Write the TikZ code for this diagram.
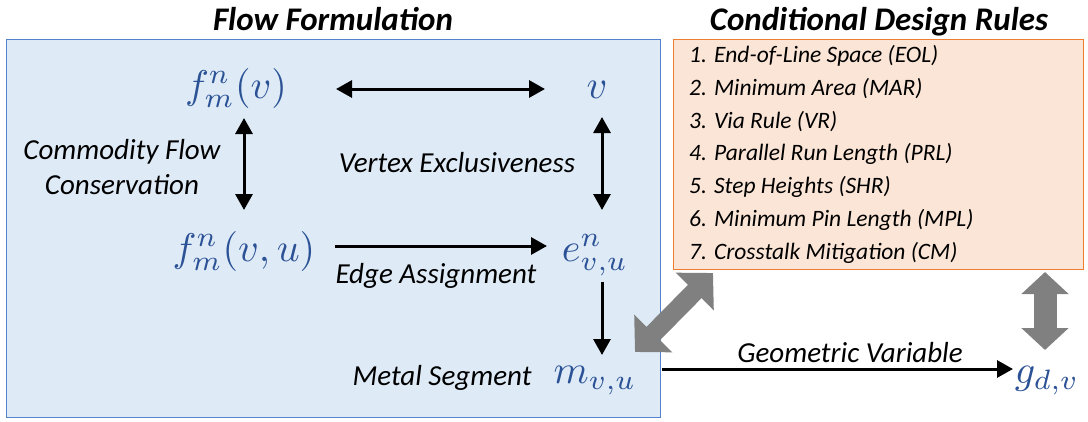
\documentclass[tikz,border=0pt]{standalone}
\usepackage{graphicx}
\usepackage{fontspec}
\setmainfont{Carlito}
\usetikzlibrary{arrows.meta}
\definecolor{boxblue}{RGB}{222,235,247}
\definecolor{edgeblue}{RGB}{84,130,204}
\definecolor{boxorange}{RGB}{251,229,214}
\definecolor{edgeorange}{RGB}{237,125,49}
\definecolor{mathblue}{RGB}{44,82,150}
\definecolor{arrowgray}{RGB}{128,128,128}
% large math symbols: 10pt math scaled up
\newcommand\mvar[1]{\scalebox{4.0}{$#1$}}
\tikzset{
  var/.style={text=mathblue, inner sep=0pt, anchor=base},
  lbl/.style={font=\fontsize{29}{34}\selectfont\itshape, inner sep=0pt, anchor=base},
  rule/.style={font=\fontsize{23.5}{33}\selectfont\itshape, inner sep=0pt, anchor=base west},
  ttl/.style={font=\fontsize{33}{38}\selectfont\bfseries\itshape, inner sep=0pt, anchor=base},
  dbl/.style={line width=3pt, {Triangle[length=16pt,width=17pt]}-{Triangle[length=16pt,width=17pt]}},
  sgl/.style={line width=3pt, -{Triangle[length=16pt,width=17pt]}},
  fatdiag/.style={draw=arrowgray, line width=19pt, {Triangle[length=26pt,width=52pt]}-{Triangle[length=26pt,width=52pt]}},
  fatvert/.style={draw=arrowgray, line width=23pt, {Triangle[length=22pt,width=46pt]}-{Triangle[length=22pt,width=46pt]}},
}
\begin{document}
\begin{tikzpicture}[x=1pt,y=-1pt]
\useasboundingbox (0,0) rectangle (1088,421);

% panels
\node[draw=edgeblue, fill=boxblue, line width=1.2pt, minimum width=654pt, minimum height=378pt, inner sep=0pt, anchor=north west] (flow) at (6,39) {};
\node[draw=edgeorange, fill=boxorange, line width=1.2pt, minimum width=410pt, minimum height=230pt, inner sep=0pt, anchor=north west] (rules) at (673,39) {};

% titles
\node[ttl] (t1) at (333,30) {Flow Formulation};
\node[ttl] (t2) at (879,30) {Conditional Design Rules};

% variables
\node[var] (fv)  at (236,98)  {\mvar{f_m^n(v)}};
\node[var] (v)   at (597,98)  {\mvar{v}};
\node[var] (fvu) at (244,261) {\mvar{f_m^n(v,u)}};
\node[var] (e)   at (595,261) {\mvar{e_{v,u}^n}};
\node[var] (m)   at (595,383) {\mvar{m_{v,u}}};
\node[var] (g)   at (1047,383) {\mvar{g_{d,v}}};

% connector ports
\coordinate (fv-r)  at (336,89);
\coordinate (v-l)   at (545,89);
\coordinate (fv-b)  at (244,118);
\coordinate (fvu-t) at (244,210);
\coordinate (v-b)   at (602,117);
\coordinate (e-t)   at (602,210);
\coordinate (fvu-r) at (335,246);
\coordinate (e-l)   at (547,246);
\coordinate (e-b)   at (602,282);
\coordinate (m-t)   at (602,355);
\coordinate (m-r)   at (662,369);
\coordinate (g-l)   at (1013,369);

% relations inside the flow formulation
\draw[dbl] (fv-r) -- (v-l);
\draw[dbl] (fv-b) -- (fvu-t);
\draw[dbl] (v-b) -- (e-t);
\draw[sgl] (fvu-r) -- (e-l);
\draw[sgl] (e-b) -- (m-t);
\draw[sgl] (m-r) -- (g-l);

% labels
\node[lbl] (cfc1) at (122,159) {Commodity Flow};
\node[lbl] (cfc2) at (122,194) {Conservation};
\node[lbl] (vex) at (457,172) {Vertex Exclusiveness};
\node[lbl] (eas) at (436,283) {Edge Assignment};
\node[lbl] (mse) at (442,385) {Metal Segment};
\node[lbl] (gva) at (850,362) {Geometric Variable};

% design rule list
\node[rule] (r1) at (689,62)  {1. End-of-Line Space (EOL)};
\node[rule] (r2) at (689,95)  {2. Minimum Area (MAR)};
\node[rule] (r3) at (689,128) {3. Via Rule (VR)};
\node[rule] (r4) at (689,160) {4. Parallel Run Length (PRL)};
\node[rule] (r5) at (689,193) {5. Step Heights (SHR)};
\node[rule] (r6) at (689,226) {6. Minimum Pin Length (MPL)};
\node[rule] (r7) at (689,259) {7. Crosstalk Mitigation (CM)};

% links to the design rules
\coordinate (m-link) at (635,352);
\coordinate (rules-sw) at (713,273);
\draw[fatdiag] (m-link) -- (rules-sw);
\coordinate (rules-se) at (1045,272);
\coordinate (g-link) at (1045,350);
\draw[fatvert] (rules-se) -- (g-link);
\end{tikzpicture}
\end{document}
